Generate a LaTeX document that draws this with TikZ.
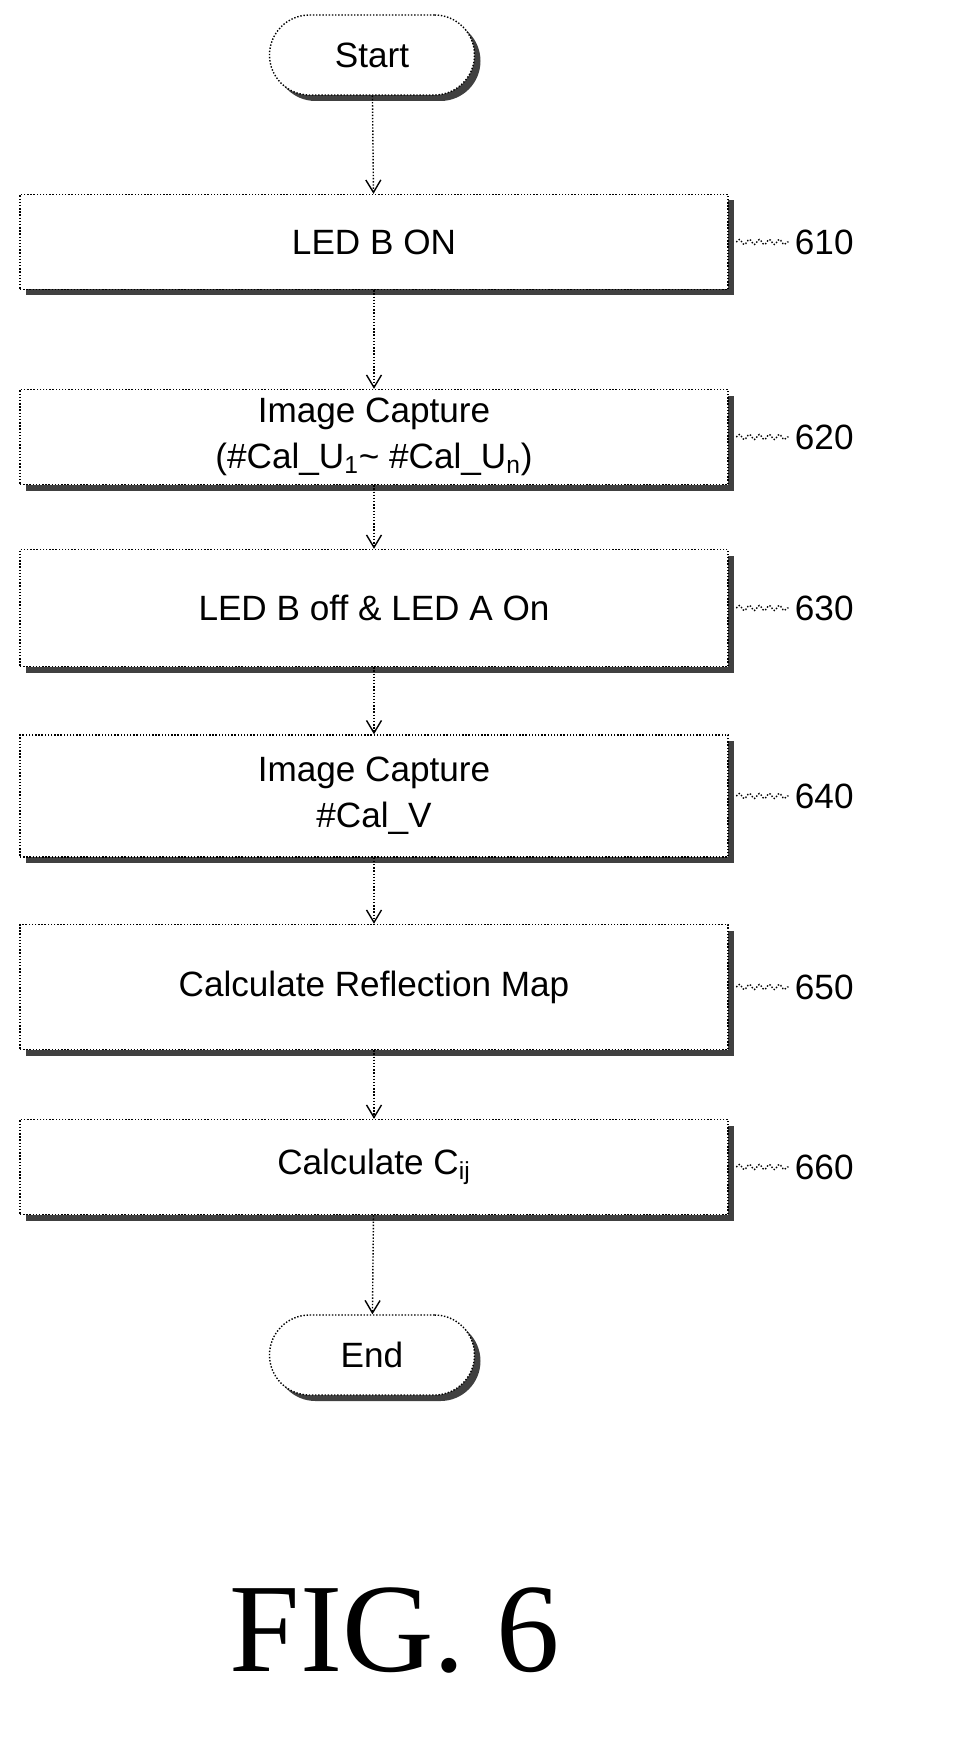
\documentclass[tikz,border=0pt]{standalone}
\usepackage{fontspec}
\setmainfont{Liberation Sans}
\newfontfamily\figfont{Liberation Serif}
\usetikzlibrary{positioning,shadows,decorations.pathmorphing,arrows.meta}
\tikzset{
  stepbox/.style={draw, densely dotted, thick, fill=white, minimum width=14.16cm, align=center,
    font=\fontsize{20}{26}\selectfont,
    drop shadow={shadow xshift=0.12cm, shadow yshift=-0.12cm, fill=black!75, opacity=1}},
  termbox/.style={stepbox, rounded corners=0.8cm, minimum width=4.1cm, minimum height=1.6cm},
  flow/.style={densely dotted, thick, -{Straight Barb[length=2.5mm,width=3mm]}},
  tag/.style={font=\fontsize{20}{24}\selectfont, anchor=west}
}
\begin{document}
\begin{tikzpicture}
  \useasboundingbox (0,0) rectangle (19.18,-35.08);

  \node[termbox] (start) at (7.44,-1.1) {Start};
  \node[stepbox, minimum height=1.9cm] (s610) at (7.48,-4.84) {LED B ON};
  \node[stepbox, minimum height=1.9cm] (s620) at (7.48,-8.74) {Image Capture\\(\#Cal\_U\textsubscript{1}\textasciitilde\ \#Cal\_U\textsubscript{n})};
  \node[stepbox, minimum height=2.34cm] (s630) at (7.48,-12.16) {LED B off \& LED A On};
  \node[stepbox, minimum height=2.44cm] (s640) at (7.48,-15.92) {Image Capture\\\#Cal\_V};
  \node[stepbox, minimum height=2.5cm] (s650) at (7.48,-19.74) {Calculate Reflection Map};
  \node[stepbox, minimum height=1.9cm] (s660) at (7.48,-23.34) {Calculate C\textsubscript{ij}};
  \node[termbox] (end) at (7.44,-27.1) {End};

  \draw[flow] (start) -- (s610);
  \draw[flow] (s610) -- (s620);
  \draw[flow] (s620) -- (s630);
  \draw[flow] (s630) -- (s640);
  \draw[flow] (s640) -- (s650);
  \draw[flow] (s650) -- (s660);
  \draw[flow] (s660) -- (end);

  % reference numerals
  \foreach \s/\n in {s610/610,s620/620,s630/630,s640/640,s650/650,s660/660}{
    \node[tag] (t\n) at ([xshift=1.2cm]\s.east) {\n};
    \draw[thick, densely dotted, decorate, decoration={snake, amplitude=0.5mm, segment length=2mm}]
      ([xshift=0.15cm]\s.east) -- (t\n.west);
  }

  \node[font=\figfont\fontsize{72}{80}\selectfont] (fig) at (7.9,-32.6) {FIG. 6};
\end{tikzpicture}
\end{document}
